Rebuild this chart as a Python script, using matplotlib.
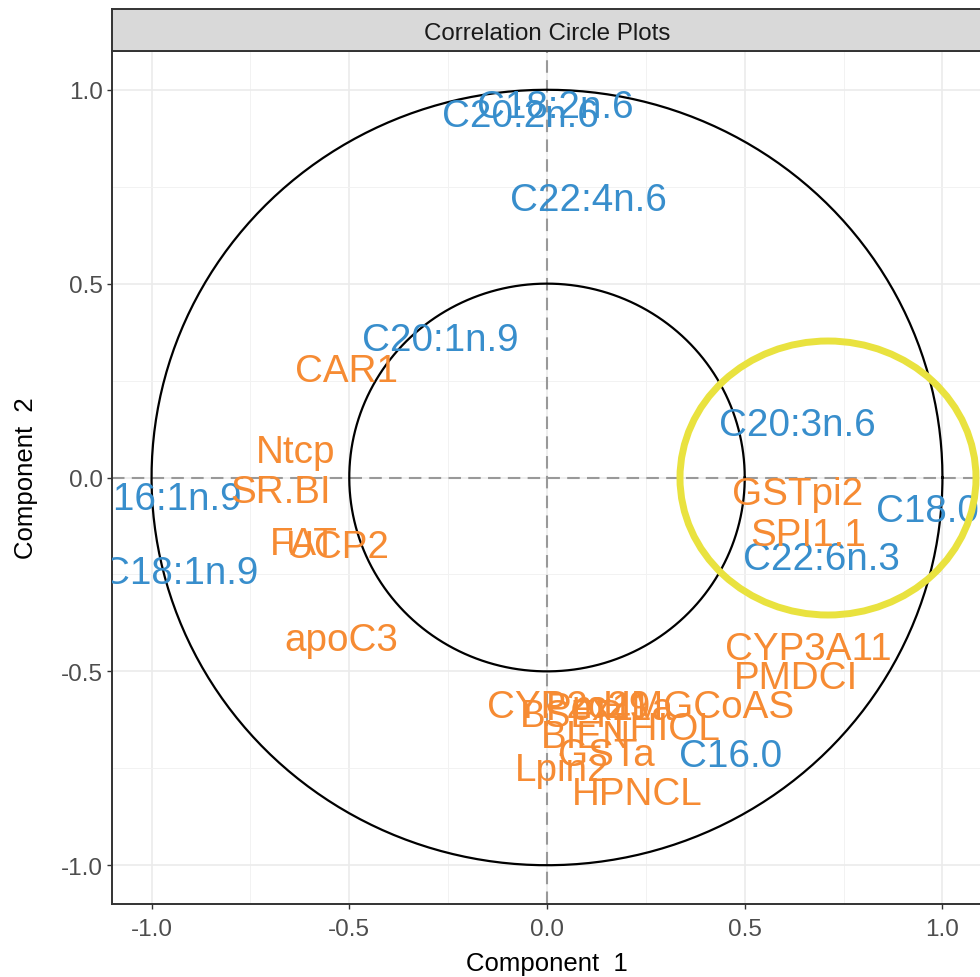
import numpy as np
import matplotlib
matplotlib.use("Agg")
import matplotlib.pyplot as plt
from matplotlib.patches import Ellipse
from matplotlib.ticker import FixedLocator

plt.rcParams['font.family'] = ['Liberation Sans', 'DejaVu Sans']

# Fatty acids (lipid block), correlation with components 1 and 2
lipid_names = ["C18:2n.6", "C20:2n.6", "C22:4n.6", "C20:1n.9", "C20:3n.6",
               "C18.0", "C22:6n.3", "C16:1n.9", "C18:1n.9", "C16.0"]
lipid_c1 = [0.020, -0.068, 0.104, -0.271, 0.632, 0.963, 0.695, -0.971, -0.928, 0.465]
lipid_c2 = [0.965, 0.942, 0.725, 0.366, 0.147, -0.077, -0.201, -0.046, -0.237, -0.707]

# Genes (expression block), correlation with components 1 and 2
gene_names = ["CAR1", "Ntcp", "SR.BI", "FAT", "UCP2", "apoC3", "GSTpi2", "SPI1.1",
              "CYP3A11", "PMDCI", "CYP2c29", "BSEP", "Pex11a", "mHMGCoAS",
              "BIEN", "THIOL", "GSTa", "Lpin2", "HPNCL"]
gene_c1 = [-0.506, -0.635, -0.675, -0.614, -0.531, -0.521, 0.635, 0.660,
           0.660, 0.630, 0.055, 0.061, 0.159, 0.344,
           0.099, 0.293, 0.149, 0.038, 0.228]
gene_c2 = [0.286, 0.077, -0.026, -0.160, -0.170, -0.408, -0.031, -0.139,
           -0.431, -0.506, -0.581, -0.606, -0.586, -0.581,
           -0.658, -0.638, -0.705, -0.743, -0.805]

circle_radii = [1.0, 0.5]
major_ticks = [-1.0, -0.5, 0.0, 0.5, 1.0]
minor_ticks = [-0.75, -0.25, 0.25, 0.75]
tick_labels = ["-1.0", "-0.5", "0.0", "0.5", "1.0"]

BLUE = "#388ECC"
ORANGE = "#F68B33"

W, H = 980, 978
fig = plt.figure(figsize=(W / 100, H / 100), dpi=100)
fig.patch.set_facecolor("white")

# panel
ax = fig.add_axes([112 / W, 73 / H, 870 / W, 853 / H])
ax.set_xlim(-1.1, 1.1)
ax.set_ylim(-1.1, 1.1)
ax.set_facecolor("white")

ax.xaxis.set_major_locator(FixedLocator(major_ticks))
ax.yaxis.set_major_locator(FixedLocator(major_ticks))
ax.xaxis.set_minor_locator(FixedLocator(minor_ticks))
ax.yaxis.set_minor_locator(FixedLocator(minor_ticks))
ax.set_xticklabels(tick_labels)
ax.set_yticklabels(tick_labels)
ax.grid(which="major", color="#EBEBEB", lw=1.2, zorder=0)
ax.grid(which="minor", color="#F2F2F2", lw=0.7, zorder=0)
ax.set_axisbelow(True)
ax.tick_params(which="major", length=3.8, width=1.0, color="#333333",
               labelcolor="#4D4D4D", labelsize=17.5)
ax.tick_params(axis="x", pad=6)
ax.tick_params(axis="y", pad=3)
ax.tick_params(which="minor", length=0)
for sp in ax.spines.values():
    sp.set_color("#333333")
    sp.set_linewidth(1.4)

# correlation circles
theta = np.linspace(0, 2 * np.pi, 400)
for r in circle_radii:
    ax.plot(r * np.cos(theta), r * np.sin(theta), color="black", lw=1.6, zorder=2)

# reference lines through the origin
ax.axhline(0, color="#999999", lw=1.5, ls=(0, (6, 3.5)), zorder=1)
ax.axvline(0, color="#999999", lw=1.5, ls=(0, (6, 3.5)), zorder=1)

# variable labels
for name, x, y in zip(lipid_names, lipid_c1, lipid_c2):
    ax.text(x, y, name, color=BLUE, fontsize=27.8, ha="center",
            va="center_baseline", clip_on=True, zorder=3)
for name, x, y in zip(gene_names, gene_c1, gene_c2):
    ax.text(x, y, name, color=ORANGE, fontsize=27.8, ha="center",
            va="center_baseline", clip_on=True, zorder=3)

# facet strip
strip = fig.add_axes([112 / W, (H - 52) / H, 870 / W, 42 / H])
strip.set_facecolor("#D9D9D9")
strip.set_xticks([])
strip.set_yticks([])
for sp in strip.spines.values():
    sp.set_color("#333333")
    sp.set_linewidth(1.4)
strip.text(0.5, 0.5, "Correlation Circle Plots", transform=strip.transAxes,
           ha="center", va="center_baseline", fontsize=17.4, color="#1A1A1A")

# axis titles
fig.text(547 / W, 1 - 962 / H, "Component  1", ha="center", va="center_baseline",
         fontsize=18.5, color="black")
fig.text(23 / W, 1 - 478.5 / H, "Component  2", ha="center", va="center_baseline",
         rotation=90, rotation_mode="anchor", fontsize=18.5, color="black")

# highlight ring
fig.patches.append(Ellipse((828 / W, 1 - 479 / H), 296 / W, 274 / H,
                           transform=fig.transFigure, fill=False,
                           edgecolor="#E9E23F", lw=5.0, zorder=10))

fig.savefig("out.png", dpi=100)
